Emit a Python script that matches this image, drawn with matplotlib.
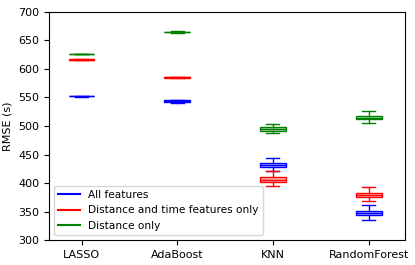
import matplotlib
matplotlib.use("Agg")
import matplotlib.pyplot as plt
from matplotlib.lines import Line2D
from matplotlib.colors import to_rgba

models = ["LASSO", "AdaBoost", "KNN", "RandomForest"]
series = ["All features", "Distance and time features only", "Distance only"]
colors = ["blue", "red", "green"]

# per series: [whislo, q1, med, q3, whishi] for each model
all_feat = [
    [551.5, 551.8, 552.3, 552.8, 553.0],
    [540.5, 541.5, 543.0, 545.0, 546.0],
    [421.0, 428.0, 431.0, 435.0, 444.5],
    [335.0, 343.5, 347.0, 351.0, 361.0],
]
dist_time = [
    [616.0, 616.2, 616.5, 616.8, 617.0],
    [584.5, 584.8, 585.2, 585.6, 586.0],
    [394.5, 401.5, 406.0, 411.0, 421.5],
    [368.5, 375.0, 378.5, 383.0, 393.0],
]
dist_only = [
    [625.5, 625.7, 626.0, 626.3, 626.5],
    [663.5, 664.0, 664.7, 665.3, 665.8],
    [488.0, 492.0, 495.0, 498.0, 504.0],
    [505.0, 511.5, 514.0, 518.0, 525.5],
]
data = [all_feat, dist_time, dist_only]

fig = plt.figure(figsize=(4.15, 2.65), dpi=100)
ax = fig.add_axes([0.118, 0.094, 0.858, 0.861])

positions = list(range(1, len(models) + 1))
for s, c in zip(data, colors):
    stats = [dict(whislo=v[0], q1=v[1], med=v[2], q3=v[3], whishi=v[4], fliers=[])
             for v in s]
    ax.bxp(stats, positions=positions, widths=0.27, patch_artist=True,
           boxprops=dict(facecolor=to_rgba(c, 0.3), edgecolor=c, linewidth=1.0),
           whiskerprops=dict(color=c, linewidth=1.0),
           capprops=dict(color=c, linewidth=1.0),
           medianprops=dict(color=c, linewidth=1.0),
           showfliers=False)

ax.set_xlim(0.66, 4.38)
ax.set_ylim(300, 700)
ax.set_xticks(positions)
ax.set_xticklabels(models, fontsize=8)
ax.tick_params(axis="y", labelsize=8)
ax.set_ylabel("RMSE (s)", fontsize=8)

handles = [Line2D([0], [0], color=c, linewidth=1.5) for c in colors]
ax.legend(handles, series, loc="lower left", fontsize=7.6)

fig.savefig("out.png", dpi=100)
